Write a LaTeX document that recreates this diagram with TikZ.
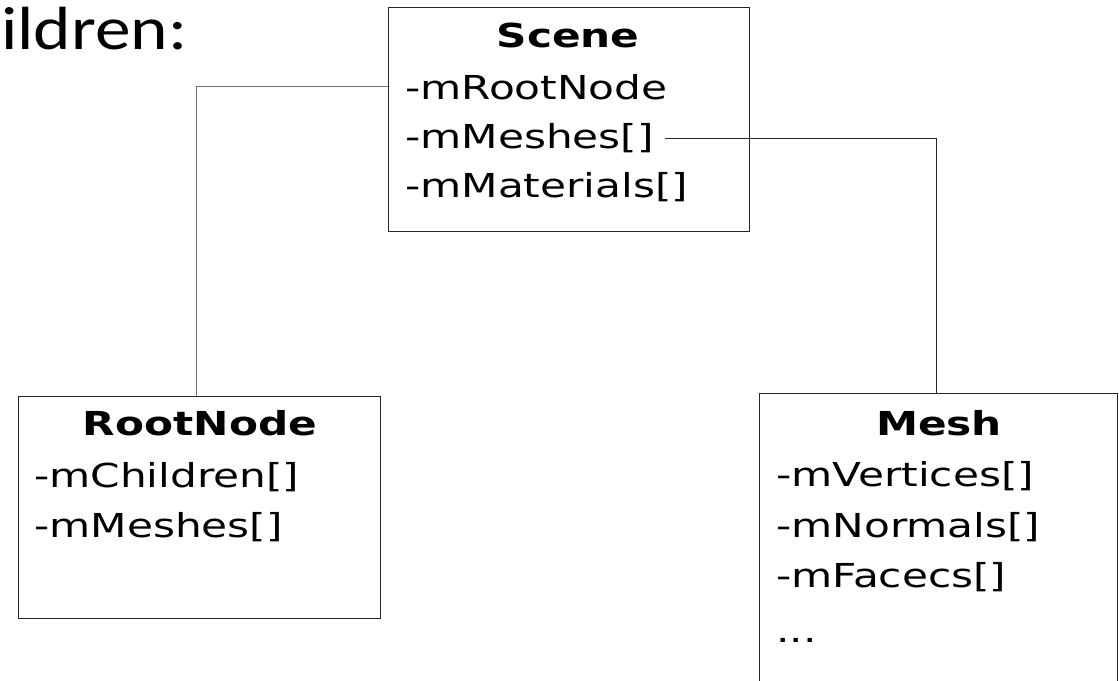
\documentclass[tikz,border=0pt]{standalone}
\usepackage{fontspec}
\setmainfont[FakeStretch=1.28]{DejaVu Sans}
\newfontfamily\calib[FakeStretch=1.17]{Carlito}
\begin{document}
\begin{tikzpicture}[x=1pt,y=-1pt,
  box/.style={draw=black!85,line width=1.4pt,inner sep=0pt,anchor=north west},
  title/.style={font=\fontsize{33}{40}\selectfont\bfseries,anchor=base,inner sep=0pt},
  field/.style={font=\fontsize{33}{40}\selectfont,anchor=base west,inner sep=0pt},
  link/.style={line width=1pt}]
\useasboundingbox (0,0) rectangle (1119,680);
\fill[white] (0,0) rectangle (1119,680);
% heading fragment
\node[font=\calib\fontsize{61}{70}\selectfont,anchor=base west,inner sep=0pt] (head) at (1,49) {ildren:};
% Scene
\node[box,minimum width=361pt,minimum height=224pt] (scene) at (388,7) {};
\node[title] (st) at (568,47) {Scene};
\node[field] (s1) at (405,99) {-mRootNode};
\node[field] (s2) at (405,148) {-mMeshes[]};
\node[field] (s3) at (405,197) {-mMaterials[]};
% RootNode
\node[box,minimum width=362pt,minimum height=222pt] (root) at (18,396) {};
\node[title] (rt) at (200,435) {RootNode};
\node[field] (r1) at (34,487) {-mChildren[]};
\node[field] (r2) at (34,537) {-mMeshes[]};
% Mesh
\node[box,minimum width=358pt,minimum height=320pt] (mesh) at (759,393) {};
\node[title] (mt) at (939,435) {Mesh};
\node[field] (m1) at (776,486) {-mVertices[]};
\node[field] (m2) at (776,537) {-mNormals[]};
\node[field] (m3) at (776,587) {-mFacecs[]};
\node[field] (m4) at (776,642) {...};
% connectors
\coordinate (c1) at (196,86);
\coordinate (c2) at (936,138);
\coordinate (c0) at (665,138);
\draw[link,draw=black!55] (scene.west |- c1) -- (c1) -- (c1 |- root.north);
\draw[link,draw=black!85] (c0) -- (c2) -- (c2 |- mesh.north);
\end{tikzpicture}
\end{document}
